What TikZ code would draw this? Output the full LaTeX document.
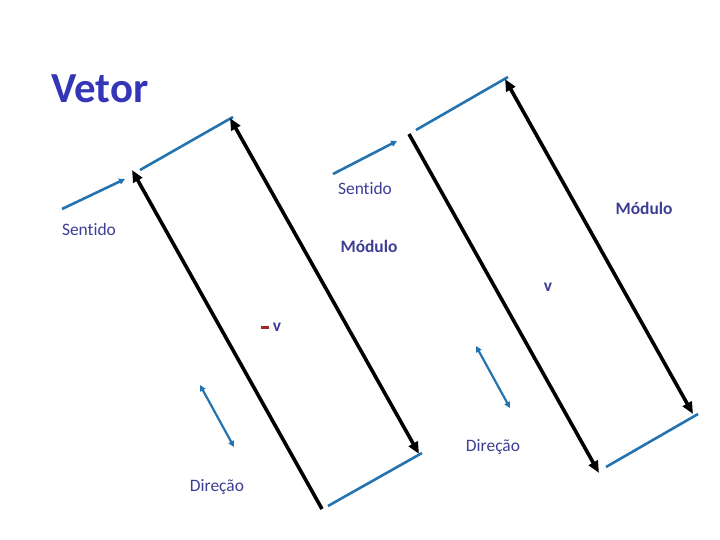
\documentclass[tikz,border=0pt]{standalone}
\usepackage{fontspec}
\setmainfont{Carlito}[Ligatures=NoCommon]
\usepackage{xcolor}
\usetikzlibrary{positioning, arrows.meta, calc}
\definecolor{titleblue}{HTML}{3535B8}
\definecolor{labelblue}{HTML}{3D3D96}
\definecolor{lineblue}{HTML}{2373B0}
\definecolor{minusred}{HTML}{A02828}

\tikzset{
  label/.style={text=labelblue, font=\fontsize{17.5}{20}\selectfont, inner sep=0pt},
  boldlabel/.style={label, font=\fontsize{17.5}{20}\selectfont\bfseries},
  vecline/.style={line width=3.6pt, black, -{Triangle[length=12pt, width=10pt]}},
  veclinetwo/.style={line width=3.6pt, black, {Triangle[length=12pt, width=10pt]}-{Triangle[length=12pt, width=10pt]}},
  guide/.style={line width=2.6pt, lineblue},
  sense/.style={line width=2.6pt, lineblue, -{Triangle[length=6pt, width=6pt]}},
  dir/.style={line width=2.2pt, lineblue, {Triangle[length=6pt, width=6pt]}-{Triangle[length=6pt, width=6pt]}}
}

\begin{document}
\begin{tikzpicture}[x=1bp, y=-1bp]
  \useasboundingbox (0,0) rectangle (720,540);

  \node[anchor=west, text=titleblue, font=\fontsize{43}{48}\selectfont\bfseries, inner sep=0pt] (title) at (51,89) {Vetor};

  % -v, left group
  \coordinate (sa) at (62,209);
  \coordinate (sb) at (125,179);
  \coordinate (ta) at (140,170);
  \coordinate (tb) at (233,117);
  \coordinate (ua) at (322,509);
  \coordinate (ub) at (132,170);
  \coordinate (wa) at (230,118);
  \coordinate (wb) at (419,454);
  \coordinate (ba) at (328,506);
  \coordinate (bb) at (422,453);
  \coordinate (da) at (200,385);
  \coordinate (db) at (234,447);

  \draw[sense] (sa) -- (sb);
  \draw[guide] (ta) -- (tb);
  \draw[vecline] (ua) -- (ub);
  \draw[veclinetwo] (wa) -- (wb);
  \draw[guide] (ba) -- (bb);
  \draw[dir] (da) -- (db);

  \node[label] (sentidoL) at (89,230) {Sentido};
  \node[boldlabel] (moduloL) at (369,246) {Módulo};
  \node[boldlabel] (minusv) at (271,327) {\textcolor{minusred}{\rule[0.3ex]{8bp}{2.2bp}}\hspace{4bp}v};
  \node[label] (direcaoL) at (217,487) {Direção};

  % v, right group
  \coordinate (sc) at (333,174);
  \coordinate (sd) at (397,141);
  \coordinate (tc) at (416,130);
  \coordinate (td) at (508,77);
  \coordinate (uc) at (409,134);
  \coordinate (ud) at (599,473);
  \coordinate (wc) at (505,79);
  \coordinate (wd) at (693,414);
  \coordinate (bc) at (606,467);
  \coordinate (bd) at (698,414);
  \coordinate (dc) at (476,346);
  \coordinate (dd) at (510,408);

  \draw[sense] (sc) -- (sd);
  \draw[guide] (tc) -- (td);
  \draw[vecline] (uc) -- (ud);
  \draw[veclinetwo] (wc) -- (wd);
  \draw[guide] (bc) -- (bd);
  \draw[dir] (dc) -- (dd);

  \node[label] (sentidoR) at (365,189) {Sentido};
  \node[boldlabel] (moduloR) at (644,208) {Módulo};
  \node[boldlabel] (vec) at (548,287) {v};
  \node[label] (direcaoR) at (493,447) {Direção};
\end{tikzpicture}
\end{document}
